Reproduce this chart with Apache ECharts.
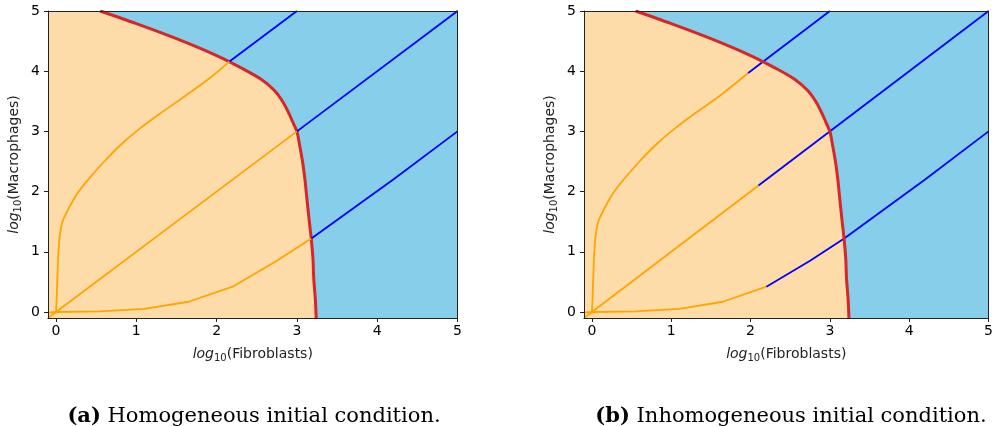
<!DOCTYPE html>
<html>
<head>
<meta charset="utf-8">
<script src="https://cdn.jsdelivr.net/npm/echarts@6/dist/echarts.min.js"></script>
<style>html,body{margin:0;padding:0;background:#fff;}#c{width:996px;height:426px;}</style>
</head>
<body>
<div id="c"></div>
<script>
// ---- data ----
const xTicks = [0, 1, 2, 3, 4, 5];
const yTicks = [0, 1, 2, 3, 4, 5];
const captions = ['Homogeneous initial condition.', 'Inhomogeneous initial condition.'];
const captionTags = ['(a)', '(b)'];

// separatrix (boundary between basins)
const boundary = [[0.55,5.0],[1.0,4.79],[1.5,4.54],[2.0,4.26],[2.3,4.06],[2.55,3.87],[2.72,3.68],[2.82,3.5],[2.9,3.3],[2.96,3.12],[3.0,3.0],[3.03,2.8],[3.07,2.5],[3.1,2.2],[3.12,1.94],[3.14,1.68],[3.16,1.44],[3.18,1.2],[3.2,0.88],[3.21,0.55],[3.23,0.2],[3.24,-0.1]];
const fillCorner = [[-0.1,5.0]];

// panel (a) trajectories
const aUpperOrange = [[0,0],[0.01,0.3],[0.02,0.7],[0.03,1.0],[0.05,1.3],[0.08,1.5],[0.13,1.65],[0.26,1.96],[0.4,2.2],[0.6,2.5],[0.8,2.77],[1.0,3.0],[1.3,3.3],[1.6,3.58],[1.9,3.87],[2.16,4.16]];
const aUpperBlue = [[2.16,4.16],[3.0,5.0]];
const aMidOrange = [[-0.1,-0.1],[3.0,3.0]];
const aMidBlue = [[3.0,3.0],[5.0,5.0]];
const aLowOrange = [[-0.1,-0.01],[0,0],[0.55,0.01],[1.1,0.05],[1.65,0.17],[2.2,0.42],[2.75,0.85],[3.18,1.22]];
const aLowBlue = [[3.18,1.22],[4.2,2.2],[5.0,3.0]];

// panel (b) trajectories
const bUpperOrange = [[0,0],[0.01,0.3],[0.02,0.7],[0.03,1.0],[0.05,1.3],[0.08,1.5],[0.13,1.65],[0.26,1.96],[0.4,2.2],[0.6,2.5],[0.8,2.77],[1.0,3.0],[1.3,3.3],[1.6,3.58],[1.97,3.97]];
const bUpperBlue = [[1.97,3.97],[2.16,4.16],[3.0,5.0]];
const bMidOrange = [[-0.1,-0.1],[2.1,2.1]];
const bMidBlue = [[2.1,2.1],[5.0,5.0]];
const bLowOrange = [[-0.1,-0.01],[0,0],[0.55,0.01],[1.1,0.05],[1.65,0.17],[2.2,0.42]];
const bLowBlue = [[2.2,0.42],[2.75,0.85],[3.18,1.22],[4.2,2.2],[5.0,3.0]];

// ---- styles ----
const ORANGE = '#ffa500', BLUE = '#0000ff', RED = '#d62728';
const FILL = '#fddca9', SKY = '#87ceeb';
const AX = '#222';
const FONT = 'DejaVu Sans';

const grids = [
  {left: 48, right: 538.5, top: 11, bottom: 108},
  {left: 584, right: 2.5, top: 11, bottom: 108}
];

const nameRich = {
  i: {fontStyle: 'italic', fontSize: 14, fontFamily: FONT, color: AX},
  s: {fontSize: 10, fontFamily: FONT, color: AX, padding: [8, 0, 0, 0]},
  n: {fontSize: 14, fontFamily: FONT, color: AX}
};

const xAxis = [], yAxis = [], series = [];
grids.forEach((g, gi) => {
  g.show = true; g.backgroundColor = SKY; g.borderWidth = 0; g.containLabel = false;
  xAxis.push({
    type: 'value', gridIndex: gi, min: -0.1, max: 5, position: 'bottom',
    name: '{i|log}{s|10}{n|(Fibroblasts)}', nameLocation: 'middle', nameGap: 27,
    nameTextStyle: {rich: nameRich},
    axisLine: {show: true, onZero: false, lineStyle: {color: AX, width: 1}},
    axisTick: {show: true, customValues: xTicks, length: 4, lineStyle: {color: AX, width: 1}},
    axisLabel: {customValues: xTicks, fontSize: 14, fontFamily: FONT, color: '#000', margin: 6},
    splitLine: {show: false}, z: 10
  });
  xAxis.push({
    type: 'value', gridIndex: gi, min: -0.1, max: 5, position: 'top',
    axisLine: {show: true, onZero: false, lineStyle: {color: AX, width: 1}},
    axisTick: {show: false}, axisLabel: {show: false}, splitLine: {show: false}, z: 10
  });
  yAxis.push({
    type: 'value', gridIndex: gi, min: -0.1, max: 5, position: 'left',
    name: '{i|log}{s|10}{n|(Macrophages)}', nameLocation: 'middle', nameGap: 25, nameRotate: 90,
    nameTextStyle: {rich: nameRich},
    axisLine: {show: true, onZero: false, lineStyle: {color: AX, width: 1}},
    axisTick: {show: true, customValues: yTicks, length: 4, lineStyle: {color: AX, width: 1}},
    axisLabel: {customValues: yTicks, fontSize: 14, fontFamily: FONT, color: '#000', margin: 8},
    splitLine: {show: false}, z: 10
  });
  yAxis.push({
    type: 'value', gridIndex: gi, min: -0.1, max: 5, position: 'right',
    axisLine: {show: true, onZero: false, lineStyle: {color: AX, width: 1}},
    axisTick: {show: false}, axisLabel: {show: false}, splitLine: {show: false}, z: 10
  });
  const xi = gi * 2, yi = gi * 2;
  series.push({
    type: 'line', xAxisIndex: xi, yAxisIndex: yi, data: fillCorner.concat(boundary),
    symbol: 'none', smooth: 0.3, lineStyle: {width: 0}, areaStyle: {color: FILL, opacity: 1, origin: 'start'},
    silent: true, z: 1, animation: false
  });
  const trajs = gi === 0
    ? [[aUpperOrange, ORANGE, 0.3], [aMidOrange, ORANGE, 0], [aLowOrange, ORANGE, 0], [aUpperBlue, BLUE, 0], [aMidBlue, BLUE, 0], [aLowBlue, BLUE, 0]]
    : [[bUpperOrange, ORANGE, 0.3], [bMidOrange, ORANGE, 0], [bLowOrange, ORANGE, 0], [bUpperBlue, BLUE, 0], [bMidBlue, BLUE, 0], [bLowBlue, BLUE, 0]];
  trajs.forEach(([d, c, sm]) => series.push({
    type: 'line', xAxisIndex: xi, yAxisIndex: yi, data: d, symbol: 'none', smooth: sm,
    lineStyle: {color: c, width: 1.8}, z: 3, animation: false, silent: true
  }));
  series.push({
    type: 'line', xAxisIndex: xi, yAxisIndex: yi, data: boundary, symbol: 'none', smooth: 0.3,
    lineStyle: {color: RED, width: 3}, z: gi === 0 ? 2 : 4, animation: false, silent: true
  });
});

const captionRich = {
  b: {fontWeight: 'bold', fontFamily: 'DejaVu Serif', fontSize: 21, color: '#000'},
  t: {fontWeight: 'normal', fontFamily: 'DejaVu Serif', fontSize: 21, color: '#000'}
};
const title = [249, 786].map((cx, i) => ({
  text: '{b|' + captionTags[i] + '}{t| ' + captions[i] + '}',
  left: cx, top: 401, textAlign: 'center',
  textStyle: {fontWeight: 'normal', rich: captionRich}
}));

const chart = echarts.init(document.getElementById('c'), null, {renderer: 'canvas'});
chart.setOption({animation: false, title, grid: grids, xAxis, yAxis, series});
</script>
</body>
</html>
